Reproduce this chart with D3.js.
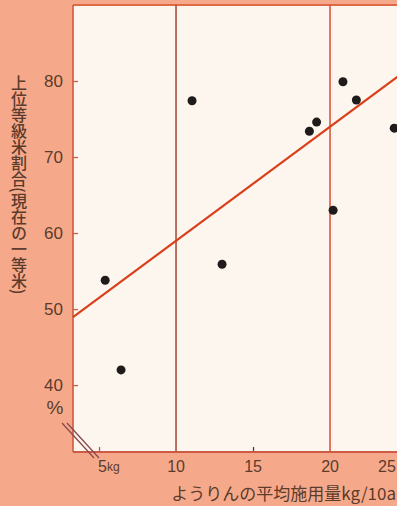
<!DOCTYPE html>
<html>
<head>
<meta charset="utf-8">
<script src="https://cdn.jsdelivr.net/npm/d3@7"></script>
<style>
  html, body { margin: 0; padding: 0; background: #f6a98a; }
  svg { display: block; }
  .vtitle { writing-mode: vertical-rl; text-orientation: mixed; }
</style>
</head>
<body>
<svg id="chart" width="397" height="506"></svg>
<script>
// Phosphate fertilizer (ようりん) rate vs. share of top-grade rice
const rateKg = [5.4, 6.43, 11.04, 12.99, 18.66, 19.13, 20.2, 20.84, 21.71, 24.17];
const topGradePct = [53.8, 42.0, 77.4, 55.9, 73.4, 74.6, 63.0, 79.9, 77.5, 73.8];

// fitted trend line, given by its two end points
const trendX = [3.31, 26];
const trendY = [48.95, 83.0];

const yTicks = [40, 50, 60, 70, 80];
const xTicks = [5, 10, 15, 20, 25];
const xTickLabels = ["5kg", "10", "15", "20", "25"];
const gridX = [10, 20];
const yTitle = "上位等級米割合(現在の一等米)";
const xTitle = "ようりんの平均施用量kg/10a";

const svg = d3.select("#chart");
const W = 397, H = 506;
const padLeft = 73, padTop = 5, baseY = 452;

const x = d3.scaleLinear().domain([3.31, 26]).range([padLeft, padLeft + (26 - 3.31) * 15.4]);
const y = d3.scaleLinear().domain([31.2, 90]).range([baseY, padTop]);

const ink = "#5b3b2c";

// page background
svg.append("rect").attr("width", W).attr("height", H).attr("fill", "#f6a98a");

// plot panel
svg.append("rect")
  .attr("x", padLeft).attr("y", padTop)
  .attr("width", W - padLeft + 30).attr("height", baseY - padTop)
  .attr("fill", "#fdf6ee");

// top border of panel
svg.append("line")
  .attr("x1", padLeft).attr("x2", W + 10).attr("y1", padTop).attr("y2", padTop)
  .attr("stroke", "#de6a48").attr("stroke-width", 2);

// vertical guide lines at 10 and 20 kg
svg.selectAll("line.grid").data(gridX).enter().append("line")
  .attr("class", "grid")
  .attr("x1", d => x(d)).attr("x2", d => x(d))
  .attr("y1", padTop).attr("y2", baseY)
  .attr("stroke", d => d === 10 ? "#a8503e" : "#d9583c")
  .attr("stroke-width", 1.6);

// left axis with inward ticks
const yAxis = d3.axisRight(y).tickValues(yTicks).tickSize(5).tickFormat("");
const gy = svg.append("g").attr("transform", `translate(${padLeft},0)`).call(yAxis);
gy.select(".domain").remove();
gy.selectAll(".tick line").attr("stroke", "#d65a45").attr("stroke-width", 1.3);
svg.append("line")
  .attr("x1", padLeft).attr("x2", padLeft).attr("y1", padTop).attr("y2", baseY)
  .attr("stroke", "#cc5a44").attr("stroke-width", 1.6);

// y tick labels
svg.selectAll("text.ytick").data(yTicks).enter().append("text")
  .attr("class", "ytick")
  .attr("x", 63).attr("y", d => y(d) + 6)
  .attr("text-anchor", "end")
  .attr("font-family", "Liberation Sans, Arial, sans-serif")
  .attr("font-size", 17)
  .attr("fill", ink)
  .text(d => d);
svg.append("text")
  .attr("x", 55).attr("y", y(40) + 29)
  .attr("text-anchor", "middle")
  .attr("font-family", "Liberation Sans, Arial, sans-serif")
  .attr("font-size", 19)
  .attr("fill", ink)
  .text("%");

// bottom axis with small upward ticks
const xAxis = d3.axisTop(x).tickValues([5, 15]).tickSize(5).tickFormat("");
const gx = svg.append("g").attr("transform", `translate(0,${baseY})`).call(xAxis);
gx.select(".domain").remove();
gx.selectAll(".tick line")
  .attr("stroke", d => d === 5 ? "#d0407a" : "#4a3a30")
  .attr("stroke-width", 1.3);
svg.append("line")
  .attr("x1", padLeft).attr("x2", W + 10).attr("y1", baseY).attr("y2", baseY)
  .attr("stroke", "#cc5a44").attr("stroke-width", 1.8);

// x tick labels (the last one is pulled back inside the page edge)
svg.selectAll("text.xtick").data(xTicks).enter().append("text")
  .attr("class", "xtick")
  .attr("x", (d, i) => i === 0 ? x(d) - 1 : Math.min(x(d), W - 10))
  .attr("y", 472)
  .attr("text-anchor", (d, i) => i === 0 ? "start" : "middle")
  .attr("font-family", "Liberation Sans, Arial, sans-serif")
  .attr("font-size", 16)
  .attr("fill", ink)
  .each(function(d, i) {
    const t = d3.select(this);
    if (i === 0) {
      t.append("tspan").text("5");
      t.append("tspan").attr("font-size", 12).attr("dy", -1).text("kg");
    } else {
      t.text(xTickLabels[i]);
    }
  });

// axis break marks across the bottom-left corner
const breakOffsets = [0, 5];
svg.selectAll("line.brk").data(breakOffsets).enter().append("line")
  .attr("class", "brk")
  .attr("x1", d => 62 + d).attr("y1", 423)
  .attr("x2", d => 94 + d).attr("y2", 458)
  .attr("stroke", "#8a4a4a").attr("stroke-width", 1.3);

// trend line
svg.append("line")
  .attr("x1", x(trendX[0])).attr("y1", y(trendY[0]))
  .attr("x2", x(trendX[1])).attr("y2", y(trendY[1]))
  .attr("stroke", "#d9401a").attr("stroke-width", 2.2);

// observations
svg.selectAll("circle.pt").data(rateKg).enter().append("circle")
  .attr("class", "pt")
  .attr("cx", d => x(d))
  .attr("cy", (d, i) => y(topGradePct[i]))
  .attr("r", 4.5)
  .attr("fill", "#1e1b1a");

// y title, set in vertical writing mode
svg.append("text")
  .attr("class", "vtitle")
  .attr("x", 19).attr("y", 75)
  .attr("font-family", "Noto Sans CJK JP, sans-serif")
  .attr("font-weight", 500)
  .attr("font-size", 16)
  .attr("fill", ink)
  .text(yTitle);

// x title
svg.append("text")
  .attr("x", 396).attr("y", 500)
  .attr("text-anchor", "end")
  .attr("font-family", "Noto Sans CJK JP, sans-serif")
  .attr("font-size", 17)
  .attr("fill", ink)
  .text(xTitle);
</script>
</body>
</html>
